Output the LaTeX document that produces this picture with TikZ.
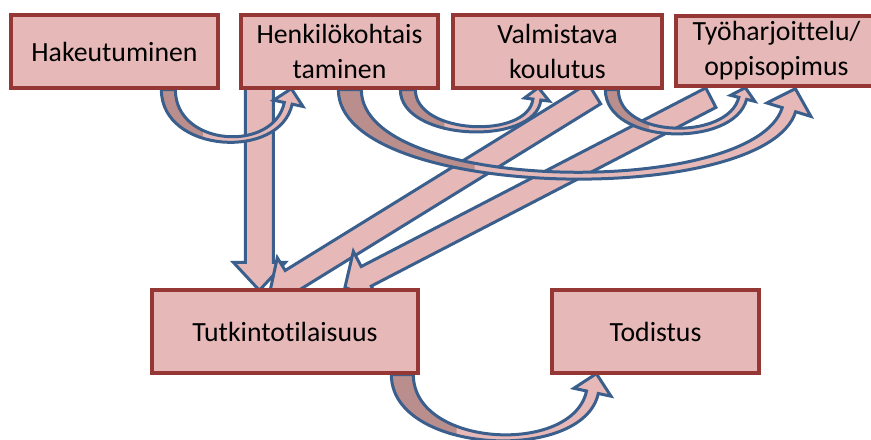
\documentclass[tikz,border=0pt]{standalone}
\usepackage{fontspec}
\setmainfont{Carlito}[Ligatures={NoCommon}]
\usepackage{xcolor}
\usepackage{tikz}
\usetikzlibrary{calc,backgrounds}

\definecolor{boxpink}{HTML}{E6B9B8}
\definecolor{boxred}{HTML}{953735}
\definecolor{arrblue}{HTML}{3A5F8C}
\definecolor{bentdark}{HTML}{B98E8C}

% straight block arrow: tail, tip, shaft half width, head half width, head length
\newcommand\blockarrow[5]{%
  \coordinate (hb) at ($(#2)!#5!(#1)$);
  \draw[blk] ($(#1)!#3!90:(#2)$) -- ($(hb)!#3!90:(#2)$) -- ($(hb)!#4!90:(#2)$) -- (#2)
    -- ($(hb)!#4!-90:(#2)$) -- ($(hb)!#3!-90:(#2)$) -- ($(#1)!#3!-90:(#2)$) -- cycle;
}

% curved-up arrow: start, tip, half width at start, half width at head,
% head half width, head length, tilt of head, depth (px)
\newcommand\bentarrow[8]{%
  \coordinate (so) at ($(#1)+(-#3,0)$);
  \coordinate (si) at ($(#1)+(#3,0)$);
  \coordinate (hc) at ($(#2)+({90+#7}:#6)$);
  \coordinate (ho) at ($(hc)+(#7:#4)$);
  \coordinate (hi) at ($(hc)+({180+#7}:#4)$);
  \coordinate (wo) at ($(hc)+(#7:#5)$);
  \coordinate (wi) at ($(hc)+({180+#7}:#5)$);
  \def\bentshape{(so) .. controls ($(so)+(0,{1.33*#8})$) and ($(ho)+({90+#7}:{1.2*#8})$) .. (ho)
    -- (wo) -- (#2) -- (wi) -- (hi)
    .. controls ($(hi)+({90+#7}:{1.2*(#8-5)})$) and ($(si)+(0,{1.33*(#8-5)})$) .. (si) -- cycle}
  \fill[boxpink] \bentshape;
  \begin{scope}
    \clip ($(#1)+(-60,-10)$) rectangle ($(#1)!0.28!(#2)+(0,200)$);
    \fill[bentdark] \bentshape;
  \end{scope}
  \draw[bentline] \bentshape;
}

\begin{document}
\begin{tikzpicture}[
  x=0.2mm, y=-0.2mm,
  every node/.style={font=\fontsize{15.8}{19.9}\selectfont},
  stage/.style   ={draw=boxred, line width=0.66mm, fill=boxpink,
                   align=center, inner sep=0pt},
  blk/.style     ={draw=arrblue, line width=0.6mm, fill=boxpink},
  bentline/.style={draw=arrblue, line width=0.6mm},
]
  \useasboundingbox (0,0) rectangle (871,439);

  \node[stage, minimum width=41.4mm, minimum height=14.6mm] (hak)  at (114.5,51.5) {Hakeutuminen};
  \node[stage, minimum width=39.4mm, minimum height=14.6mm] (henk) at (339.5,51.5) {Henkilökohtais\\taminen};
  \node[stage, minimum width=41.8mm, minimum height=14.6mm] (valm) at (557.5,51.5) {Valmistava\\koulutus};
  \node[stage, minimum width=40.2mm, minimum height=14mm]   (tyo)  at (776.5,51)   {Työharjoittelu/\\oppisopimus};
  \node[stage, minimum width=53.2mm, minimum height=16.6mm] (tut)  at (285,331.5)  {Tutkintotilaisuus};
  \node[stage, minimum width=41.4mm, minimum height=16.6mm] (tod)  at (655.5,331.5){Todistus};

  \begin{scope}[on background layer]
    % straight arrows into Tutkintotilaisuus
    \coordinate (v0) at ($(henk.south west)+(20,-5)$);
    \coordinate (v1) at ($(tut.north west)+(109,2)$);
    \coordinate (a0) at ($(valm.south west)+(143,4)$);
    \coordinate (a1) at ($(tut.north west)+(119,6)$);
    \coordinate (b0) at ($(tyo.south west)+(36.5,10)$);
    \coordinate (b1) at ($(tut.north west)+(194.6,-1)$);
    \blockarrow{v0}{v1}{2.8mm}{5.2mm}{5.6mm}
    \blockarrow{a0}{a1}{2.4mm}{5.4mm}{5.2mm}
    \blockarrow{b0}{b1}{2.2mm}{5.6mm}{4.8mm}

    % curved arrows
    \coordinate (c0) at ($(hak.south west)+(159,0)$);
    \coordinate (c1) at ($(henk.south west)+(52,-1)$);
    \coordinate (d0) at ($(henk.south west)+(110.5,0)$);
    \coordinate (d1) at ($(tyo.south west)+(121,1)$);
    \coordinate (e0) at ($(henk.south west)+(168.5,0)$);
    \coordinate (e1) at ($(valm.south west)+(87,-2)$);
    \coordinate (f0) at ($(valm.south west)+(160.5,0)$);
    \coordinate (f1) at ($(tyo.south west)+(71,0)$);
    \coordinate (g0) at ($(tut.south west)+(252,0)$);
    \coordinate (g1) at ($(tod.south west)+(46,-1)$);
    \bentarrow{c0}{c1}{7}{4}{15}{15}{12}{48}
    \bentarrow{d0}{d1}{11.5}{7}{23}{22}{17}{84}
    \bentarrow{e0}{e1}{7.5}{4}{12.5}{12}{7}{39}
    \bentarrow{f0}{f1}{6.5}{4}{12.5}{11}{14}{42}
    \bentarrow{g0}{g1}{11}{6}{19}{19}{12}{60}
  \end{scope}
\end{tikzpicture}
\end{document}
